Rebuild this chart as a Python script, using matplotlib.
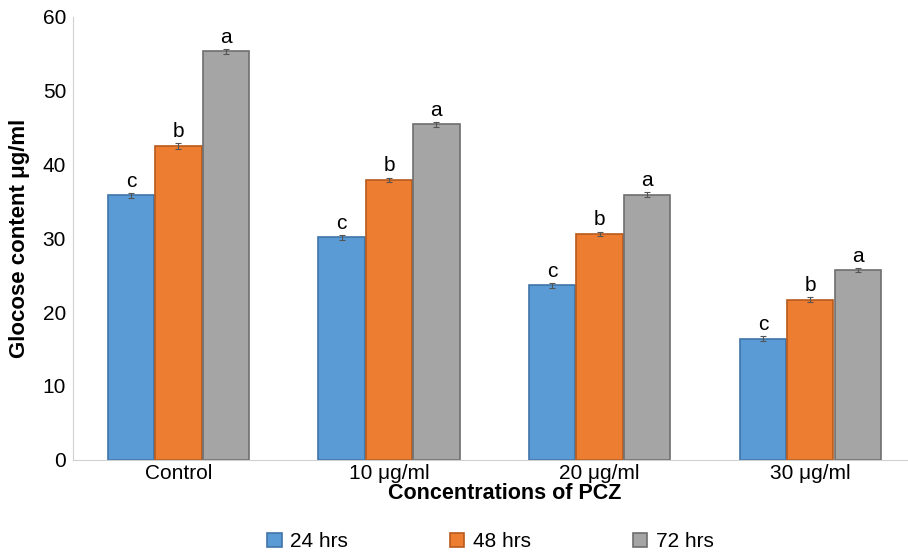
import matplotlib.pyplot as plt
import numpy as np

plt.rcParams["font.family"] = ["Liberation Sans", "DejaVu Sans"]

categories = ["Control", "10 \u03bcg/ml", "20 \u03bcg/ml", "30 \u03bcg/ml"]
series = ["24 hrs", "48 hrs", "72 hrs"]
values_24 = [35.8, 30.1, 23.6, 16.4]
values_48 = [42.5, 37.9, 30.6, 21.7]
values_72 = [55.3, 45.4, 35.9, 25.7]
errors_24 = [0.3, 0.3, 0.3, 0.3]
errors_48 = [0.4, 0.3, 0.3, 0.3]
errors_72 = [0.3, 0.3, 0.3, 0.3]
letters = ["c", "b", "a"]

COLORS = ["#5b9bd5", "#ed7d31", "#a5a5a5"]
EDGES = ["#3f74a8", "#b85a1c", "#6e6e6e"]

fig = plt.figure(figsize=(9.08, 5.54), dpi=100)
# the x-axis runs past the right edge of the picture, as in the source image
ax = fig.add_axes([0.0804, 0.170, 0.928, 0.800])

x = np.arange(len(categories))
width = 0.22
offsets = [-0.225, 0.0, 0.225]
all_vals = [values_24, values_48, values_72]
all_errs = [errors_24, errors_48, errors_72]

for i in range(3):
    ax.bar(x + offsets[i], all_vals[i], width, color=COLORS[i], edgecolor=EDGES[i],
           linewidth=1.2, label=series[i], zorder=2)
    ax.errorbar(x + offsets[i], all_vals[i], yerr=all_errs[i], fmt="none", ecolor="#555555",
                elinewidth=0.8, capsize=2.5, capthick=0.8, zorder=3)
    for xi, v, e in zip(x + offsets[i], all_vals[i], all_errs[i]):
        ax.text(xi, v + e + 0.3, letters[i], ha="center", va="bottom", fontsize=15)

ax.set_xlim(-0.5, len(categories) - 0.5)
ax.set_ylim(0, 60)
ax.set_yticks(range(0, 61, 10))
ax.set_xticks(x)
ax.set_xticklabels(categories)
ax.tick_params(axis="both", labelsize=15, length=0, pad=5)
ax.tick_params(axis="x", pad=3)

for s in ["top", "right"]:
    ax.spines[s].set_visible(False)
ax.spines["left"].set_color("#d0d0d0")
ax.spines["bottom"].set_color("#d0d0d0")

ax.set_ylabel("Glocose content \u03bcg/ml", fontsize=16, fontweight="bold", labelpad=9)
ax.set_xlabel("Concentrations of PCZ", fontsize=15.5, fontweight="bold", labelpad=0)
ax.xaxis.set_label_coords(0.512, -0.052)

fig.legend(loc="lower center", bbox_to_anchor=(0.54, -0.029), ncol=3, frameon=False,
           fontsize=15, handlelength=0.7, handleheight=0.7, handletextpad=0.4,
           columnspacing=4.9)

fig.savefig("out.png", dpi=100)
